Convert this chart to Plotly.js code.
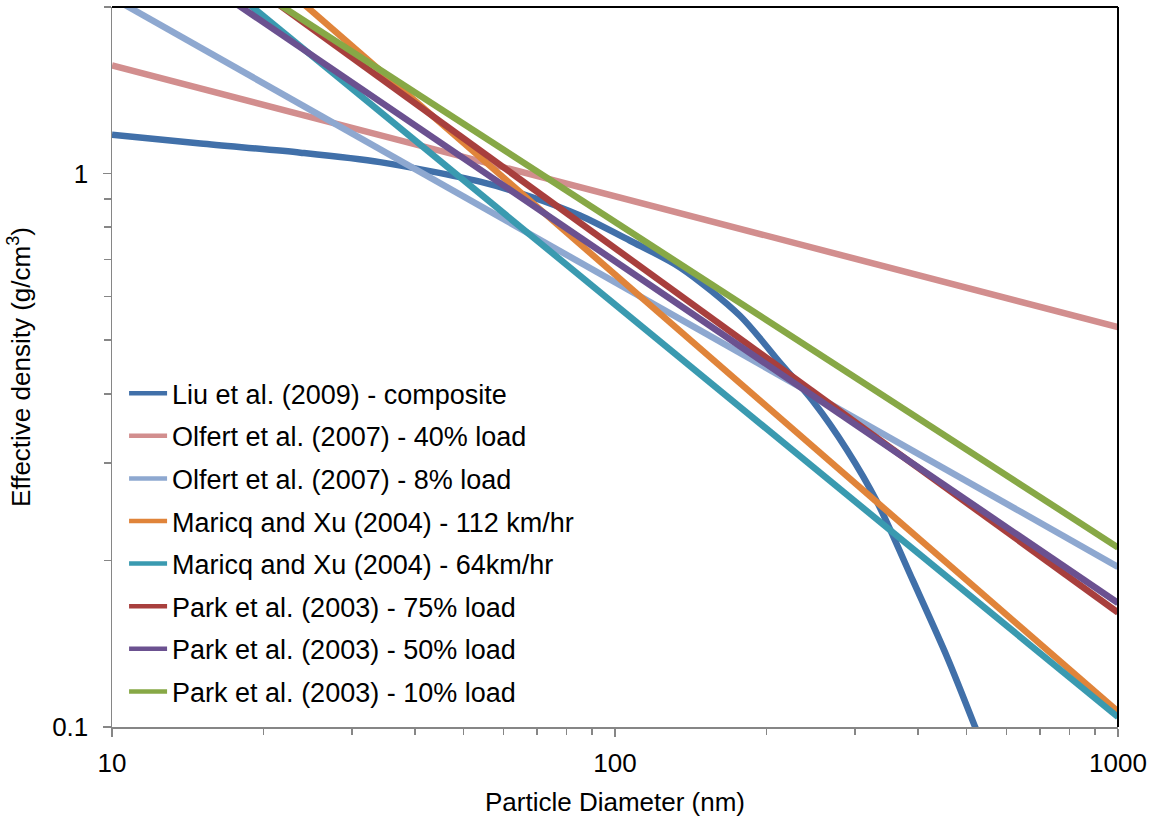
<!DOCTYPE html>
<html>
<head>
<meta charset="utf-8">
<script src="https://cdn.plot.ly/plotly-3.0.1.min.js"></script>
<style>html,body{margin:0;padding:0;background:#fff}#chart{width:1163px;height:823px}</style>
</head>
<body>
<div id="chart"></div>
<script>
// ---- data ----
const seriesNames = [
  "Liu et al. (2009) - composite",
  "Olfert et al. (2007) - 40% load",
  "Olfert et al. (2007) - 8% load",
  "Maricq and Xu (2004) - 112 km/hr",
  "Maricq and Xu (2004) - 64km/hr",
  "Park et al. (2003) - 75% load",
  "Park et al. (2003) - 50% load",
  "Park et al. (2003) - 10% load"
];
const liuDiameter = [10, 15, 23.7, 34.1, 53.9, 67.8, 85.2, 107, 135, 177, 213, 248, 289, 332, 391, 457, 520, 557];
const liuDensity  = [1.176, 1.133, 1.091, 1.049, 0.967, 0.909, 0.840, 0.757, 0.676, 0.554, 0.455, 0.387, 0.317, 0.255, 0.184, 0.134, 0.100, 0.085];
const lineDiameter = [10, 1000];
const olfert40 = [1.568, 0.528];
const olfert8  = [2.08, 0.1947];
const maricq112 = [4.05, 0.1066];
const maricq64  = [3.23, 0.1042];
const park75 = [3.34, 0.161];
const park50 = [2.88, 0.1675];
const park10 = [3.17, 0.211];
const xTickVals = [10, 100, 1000];
const xTickText = ["10", "100", "1000"];
const yTickVals = [0.1, 1];
const yTickText = ["0.1", "1"];

const colors = ["#4170A9", "#D28E8E", "#8EA8D0", "#E0843A", "#3A9AB0", "#A83F3D", "#6B5190", "#87A846"];
const ys = [liuDensity, olfert40, olfert8, maricq112, maricq64, park75, park50, park10];

const FONT = "Liberation Sans, Arial, sans-serif";
// plotted curves (legend entries drawn by thinner legend-only traces below)
const traces = ys.map((y, i) => ({
  type: "scatter",
  mode: "lines",
  name: seriesNames[i],
  x: i === 0 ? liuDiameter : lineDiameter,
  y: y,
  line: {color: colors[i], width: 6.5, shape: i === 0 ? "spline" : "linear", smoothing: 0.8},
  legendgroup: "g" + i,
  showlegend: false,
  hoverinfo: "x+y+name"
}));
const legendTraces = seriesNames.map((n, i) => ({
  type: "scatter",
  mode: "lines",
  name: n,
  x: [null], y: [null],
  line: {color: colors[i], width: 4.5},
  legendgroup: "g" + i,
  showlegend: true,
  hoverinfo: "skip"
}));

const layout = {
  width: 1163, height: 823,
  margin: {l: 112, r: 45, t: 7, b: 96},
  paper_bgcolor: "#fff", plot_bgcolor: "#fff",
  font: {family: FONT, size: 26, color: "#000"},
  showlegend: true,
  legend: {
    x: 0.012, y: 0.497, xanchor: "left", yanchor: "top",
    bgcolor: "rgba(0,0,0,0)", font: {family: FONT, size: 27, color: "#000"},
    tracegroupgap: 4.5, itemwidth: 38
  },
  xaxis: {
    type: "log", range: [1, 3],
    tickvals: xTickVals, ticktext: xTickText,
    ticks: "outside", ticklen: 8, tickwidth: 1.5, tickcolor: "#868686",
    showline: true, linecolor: "#868686", linewidth: 1.5,
    showgrid: false, zeroline: false,
    ticklabelstandoff: 4,
    tickfont: {family: FONT, size: 26, color: "#000"},
    minor: {ticks: "outside", ticklen: 6, tickwidth: 1.5, tickcolor: "#868686", dtick: "D1", showgrid: false},
    title: {text: "Particle Diameter (nm)", font: {family: FONT, size: 26, color: "#000"}, standoff: 16}
  },
  yaxis: {
    type: "log", range: [-1, Math.log10(2)],
    tickvals: yTickVals, ticktext: yTickText,
    ticks: "outside", ticklen: 8, tickwidth: 1.5, tickcolor: "#868686",
    showline: true, linecolor: "#868686", linewidth: 1.5,
    showgrid: false, zeroline: false,
    ticklabelstandoff: 9,
    tickfont: {family: FONT, size: 26, color: "#000"},
    minor: {ticks: "outside", ticklen: 7, tickwidth: 1.5, tickcolor: "#868686", dtick: "D1", showgrid: false},
    title: {text: "Effective density (g/cm<sup>3</sup>)", font: {family: FONT, size: 26, color: "#000"}, standoff: 14}
  },
  shapes: [
    {type: "line", xref: "paper", yref: "paper", x0: 0, x1: 1, y0: 1, y1: 1, line: {color: "#000", width: 2}},
    {type: "line", xref: "paper", yref: "paper", x0: 1, x1: 1, y0: 0, y1: 1, line: {color: "#000", width: 2}}
  ]
};

Plotly.newPlot("chart", traces.concat(legendTraces), layout, {displayModeBar: false, staticPlot: true});
</script>
</body>
</html>
